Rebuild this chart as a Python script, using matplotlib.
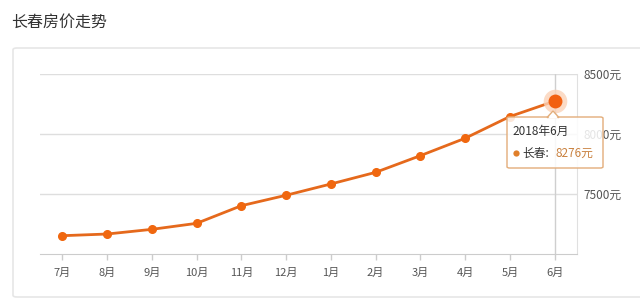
import matplotlib
matplotlib.use('Agg')
import matplotlib.pyplot as plt
from matplotlib.patches import FancyBboxPatch, Polygon
from matplotlib.lines import Line2D

plt.rcParams['font.family'] = ['Noto Sans CJK SC', 'DejaVu Sans']

# data
months = ['7月', '8月', '9月', '10月', '11月', '12月', '1月', '2月', '3月', '4月', '5月', '6月']
prices = [7155, 7169, 7208, 7258, 7405, 7492, 7586, 7683, 7822, 7967, 8148, 8276]
yticks = [7500, 8000, 8500]
title = '长春房价走势'
city = '长春'
tip_date = '2018年6月'

W, H = 640, 303
fig = plt.figure(figsize=(W / 100, H / 100), dpi=100)
fig.patch.set_facecolor('white')

def fx(px):
    return px / W

def fy(py):
    return 1 - py / H

# title and card border
fig.text(fx(11), fy(22), title, fontsize=11.5, color='#333333', va='center', ha='left')
card = FancyBboxPatch((fx(13), fy(297)), fx(700), fy(48) - fy(297),
                      boxstyle='round,pad=0,rounding_size=0.006', transform=fig.transFigure,
                      facecolor='none', edgecolor='#e6e6e6', linewidth=1.2, clip_on=False)
fig.patches.append(card)

ax = fig.add_axes([fx(40), fy(254.3), fx(577) - fx(40), fy(74.3) - fy(254.3)])
x = list(range(len(months)))

ax.set_xlim(-0.5, len(months) - 0.5)
ax.set_ylim(7000, 8500)
ax.set_yticks(yticks)
ax.set_yticklabels(['{}元'.format(v) for v in yticks])
ax.yaxis.tick_right()
ax.tick_params(axis='y', length=0, pad=5, labelsize=8.5, labelcolor='#555555')
ax.set_xticks(x)
ax.set_xticklabels(months)
ax.tick_params(axis='x', length=4, width=1, color='#cccccc', pad=6, labelsize=8, labelcolor='#555555')
ax.grid(axis='y', color='#dedede', linewidth=1)
ax.set_axisbelow(True)
for s in ['left', 'top']:
    ax.spines[s].set_visible(False)
ax.spines['bottom'].set_color('#cccccc')
ax.spines['right'].set_color('#e0e0e0')

# crosshair at hovered point
ax.axvline(x[-1], color='#cfcfcf', linewidth=1, zorder=1)

ax.plot(x, prices, color='#e5691c', linewidth=2, marker='o', markersize=5.5,
        markerfacecolor='#f0670f', markeredgecolor='#f0670f', zorder=3)
ax.plot(x[-1], prices[-1], marker='o', markersize=17, color='#fbd3b8', alpha=0.8, zorder=3.5, markeredgewidth=0)
ax.plot(x[-1], prices[-1], marker='o', markersize=10, color='#f26010', zorder=4, markeredgewidth=0)

# tooltip
tl, tt, tr, tb = 507, 117, 603, 168
tip = FancyBboxPatch((fx(tl), fy(tb)), fx(tr) - fx(tl), fy(tt) - fy(tb),
                     boxstyle='round,pad=0,rounding_size=0.004', transform=fig.transFigure,
                     facecolor=(1, 1, 1, 0.85), edgecolor='#e3ad7a', linewidth=1, zorder=10)
fig.patches.append(tip)
arrow = Polygon([(fx(547), fy(tt + 0.5)), (fx(553), fy(tt - 6)), (fx(559), fy(tt + 0.5))],
                closed=True, transform=fig.transFigure, facecolor='white', edgecolor='#e3ad7a',
                linewidth=1, zorder=11)
fig.patches.append(arrow)
fig.patches.append(Polygon([(fx(548), fy(tt + 1.5)), (fx(553), fy(tt - 4.5)), (fx(558), fy(tt + 1.5))],
                           closed=True, transform=fig.transFigure, facecolor='white', edgecolor='none', zorder=12))
fig.text(fx(512), fy(131), tip_date, fontsize=8.5, color='#333333', va='center', ha='left', zorder=13)
fig.add_artist(Line2D([fx(516)], [fy(153)], marker='o', markersize=4.5, color='#e07f2a',
                      markeredgewidth=0, transform=fig.transFigure, zorder=13))
fig.text(fx(522), fy(153), city + ':', fontsize=8.5, color='#333333', va='center', ha='left', zorder=13)
fig.text(fx(556), fy(153), '{}元'.format(prices[-1]), fontsize=8.5, color='#c9813f', va='center', ha='left', zorder=13)

fig.savefig('out.png', dpi=100)
